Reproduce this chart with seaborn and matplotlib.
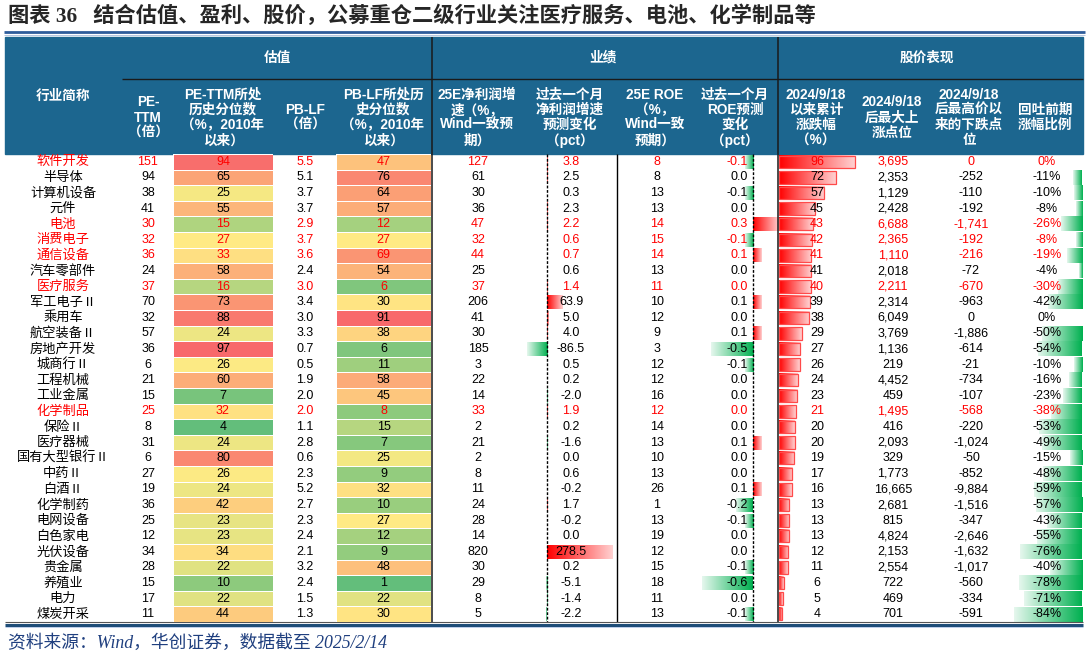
import numpy as np
import pandas as pd
import matplotlib.pyplot as plt
import matplotlib.colors as mcolors
import seaborn as sns

industries = ["软件开发", "半导体", "计算机设备", "元件", "电池", "消费电子", "通信设备", "汽车零部件",
              "医疗服务", "军工电子Ⅱ", "乘用车", "航空装备Ⅱ", "房地产开发", "城商行Ⅱ", "工程机械",
              "工业金属", "化学制品", "保险Ⅱ", "医疗器械", "国有大型银行Ⅱ", "中药Ⅱ", "白酒Ⅱ",
              "化学制药", "电网设备", "白色家电", "光伏设备", "贵金属", "养殖业", "电力", "煤炭开采"]
highlight = ["软件开发", "电池", "消费电子", "通信设备", "医疗服务", "化学制品"]

pe_ttm = [151, 94, 38, 41, 30, 32, 36, 24, 37, 70, 32, 57, 36, 6, 21, 15, 25, 8, 31, 6,
          27, 19, 36, 25, 12, 34, 28, 15, 17, 11]
pe_pct = [94, 65, 25, 55, 15, 27, 33, 58, 16, 73, 88, 24, 97, 26, 60, 7, 32, 4, 24, 80,
          26, 24, 42, 23, 23, 34, 22, 10, 22, 44]
pb_lf = [5.5, 5.1, 3.7, 3.7, 2.9, 3.7, 3.6, 2.4, 3.0, 3.4, 3.0, 3.3, 0.7, 0.5, 1.9, 2.0,
         2.0, 1.1, 2.8, 0.6, 2.3, 5.2, 2.7, 2.3, 2.4, 2.1, 3.2, 2.4, 1.5, 1.3]
pb_pct = [47, 76, 64, 57, 12, 27, 69, 54, 6, 30, 91, 38, 6, 11, 58, 45, 8, 15, 7, 25,
          9, 32, 10, 27, 12, 9, 48, 1, 22, 30]
np_growth = [127, 61, 30, 36, 47, 32, 44, 25, 37, 206, 41, 30, 185, 3, 22, 14, 33, 2, 21, 2,
             8, 11, 24, 28, 14, 820, 30, 29, 8, 5]
np_chg = [3.8, 2.5, 0.3, 2.3, 2.2, 0.6, 0.7, 0.6, 1.4, 63.9, 5.0, 4.0, -86.5, 0.5, 0.2, -2.0,
          1.9, 0.2, -1.6, 0.0, 0.6, -0.2, 1.7, -0.2, 0.0, 278.5, 0.2, -5.1, -1.4, -2.2]
roe = [8, 8, 13, 13, 14, 15, 14, 13, 11, 10, 12, 9, 3, 12, 12, 16, 12, 14, 13, 10,
       13, 26, 1, 13, 19, 12, 15, 18, 11, 13]
roe_chg = [-0.1, 0.0, -0.1, 0.0, 0.3, -0.1, 0.1, 0.0, 0.0, 0.1, 0.0, 0.1, -0.5, -0.1, 0.0, 0.0,
           0.0, 0.0, 0.1, 0.0, 0.0, 0.1, -0.2, -0.1, 0.0, 0.0, -0.1, -0.6, 0.0, -0.1]
rise = [96, 72, 57, 45, 43, 42, 41, 41, 40, 39, 38, 29, 27, 26, 24, 23, 21, 20, 20, 19,
        17, 16, 13, 13, 13, 12, 11, 6, 5, 4]
peak = [3695, 2353, 1129, 2428, 6688, 2365, 1110, 2018, 2211, 2314, 6049, 3769, 1136, 219, 4452,
        459, 1495, 416, 2093, 329, 1773, 16665, 2681, 815, 4824, 2153, 2554, 722, 469, 701]
drawdown = [0, -252, -110, -192, -1741, -192, -216, -72, -670, -963, 0, -1886, -614, -21, -734,
            -107, -568, -220, -1024, -50, -852, -9884, -1516, -347, -2646, -1632, -1017, -560, -334, -591]
giveback = [0, -11, -10, -8, -26, -8, -19, -4, -30, -42, 0, -50, -54, -10, -16, -23, -38, -53,
            -49, -15, -48, -59, -57, -43, -55, -76, -40, -78, -71, -84]

title = "图表 36   结合估值、盈利、股价，公募重仓二级行业关注医疗服务、电池、化学制品等"
source = "资料来源：Wind，华创证券，数据截至 2025/2/14"

# --------------------- layout (pixels) ---------------------
W, H = 1088, 658
ROW_TOP, ROW_BOT = 154, 622
ROW_H = (ROW_BOT - ROW_TOP) / len(industries)
HEADER_BG = "#1C668F"
RED, GREEN = "#FF0000", "#00B050"

sns.set_theme(style="white")
plt.rcParams['font.family'] = ['Liberation Sans', 'Noto Sans CJK SC']

fig = plt.figure(figsize=(W / 100, H / 100), dpi=100)
ax = fig.add_axes([0, 0, 1, 1])
ax.set_xlim(0, W)
ax.set_ylim(H, 0)
ax.set_autoscale_on(False)
ax.axis('off')

ys = ROW_TOP + ROW_H * (np.arange(len(industries)) + 0.5)
txt_colors = [RED if name in highlight else "black" for name in industries]


def fill_gradient(patch, color, solid_side, fade):
    # excel-style gradient data bar, solid at the axis side, fading out
    x, y = patch.get_x(), patch.get_y()
    w, h = patch.get_width(), patch.get_height()
    if abs(w) < 0.3:
        return
    x0, x1 = sorted([x, x + w])
    t = np.linspace(0, 1, 128)
    if solid_side == 'right':
        t = t[::-1]
    rgb = np.array(mcolors.to_rgb(color))
    img = rgb[None, :] * (1 - fade * t[:, None]) + fade * t[:, None]
    ax.imshow(img[None], extent=[x0, x1, y + h, y], aspect='auto',
              interpolation='bilinear', zorder=1.5)


def data_bars(values, axis_x, scale, height, border=None):
    widths = np.array(values, dtype=float) * scale
    bars = ax.barh(ys, widths, left=axis_x, height=height, color='none',
                   edgecolor=border if border else 'none', linewidth=0.9 if border else 0, zorder=2)
    for patch, v in zip(bars, values):
        if v > 0:
            fill_gradient(patch, RED, 'left', 0.82)
        elif v < 0:
            fill_gradient(patch, GREEN, 'right', 0.9)
    return bars


# --------------------- title & header ---------------------
ax.text(8, 16, title, fontsize=15.3, fontweight='bold', va='center', ha='left',
        family=['Liberation Serif', 'Noto Sans CJK SC'])
ax.hlines(32, 4, 1085, color="#2E5C9A", lw=2)
ax.hlines(34.6, 4, 1085, color="#A9BEDD", lw=0.6)

ax.add_patch(plt.Rectangle((5, 37), 1078, ROW_TOP - 37, color=HEADER_BG, zorder=0.5))
ax.hlines(79, 122, 1083, color="#1a1a1a", lw=1, zorder=1)
ax.vlines([432, 778], 37, ROW_BOT, color="#1a1a1a", lw=1.1, zorder=3)

hdr = dict(color='white', fontweight='bold', fontsize=9.8, ha='center', va='center',
           linespacing=1.1, zorder=2)
for x, s in [(277, "估值"), (603, "业绩"), (927, "股价表现")]:
    ax.text(x, 58, s, **hdr)
columns = [
    (63, "行业简称"),
    (148, "PE-\nTTM\n（倍）"),
    (223, "PE-TTM所处\n历史分位数\n（%，2010年\n以来）"),
    (305, "PB-LF\n（倍）"),
    (383, "PB-LF所处历\n史分位数\n（%，2010年\n以来）"),
    (477, "25E净利润增\n速（%，\nWind一致预\n期）"),
    (570, "过去一个月\n净利润增速\n预测变化\n（pct）"),
    (655, "25E ROE\n（%，\nWind一致\n预期）"),
    (735, "过去一个月\nROE预测\n变化\n（pct）"),
    (816, "2024/9/18\n以来累计\n涨跌幅\n（%）"),
    (892, "2024/9/18\n后最大上\n涨点位"),
    (969, "2024/9/18\n后最高价以\n来的下跌点\n位"),
    (1045, "回吐前期\n涨幅比例"),
]
for x, s in columns:
    ax.text(x, 96 if x == 63 else 117.5, s, **hdr)

# --------------------- percentile heatmaps (seaborn) ---------------------
gyr = mcolors.LinearSegmentedColormap.from_list("gyr", ["#63BE7B", "#FFEB84", "#F8696B"])


def pct_heatmap(values, x0, x1):
    hax = fig.add_axes([x0 / W, 1 - ROW_BOT / H, (x1 - x0) / W, (ROW_BOT - ROW_TOP) / H])
    frame = pd.DataFrame({"pct": values}, index=industries)
    norm = mcolors.TwoSlopeNorm(vmin=min(values), vcenter=float(np.median(values)), vmax=max(values))
    sns.heatmap(frame, ax=hax, cmap=gyr, norm=norm, cbar=False, xticklabels=False,
                yticklabels=False, linewidths=0.5, linecolor='white')
    for i, (v, c) in enumerate(zip(values, txt_colors)):
        hax.text(0.5, i + 0.5, f"{v}", ha='center', va='center', fontsize=9, color=c)


pct_heatmap(pe_pct, 173, 273)
pct_heatmap(pb_pct, 336, 431)

# --------------------- data bars ---------------------
data_bars(np_chg, 547, 0.235, 14)
data_bars(roe_chg, 753, 85, 14)
data_bars(rise, 779, 0.79, 12.5, border="#FF4A4A")
data_bars(giveback, 1082, 0.81, 14.6)

ax.vlines([547, 753], ROW_TOP, ROW_BOT, color="black", lw=1, linestyles=(0, (2, 1.2)), zorder=3)
ax.vlines(617, ROW_TOP, ROW_BOT, color="black", lw=1, zorder=3)

# --------------------- cell texts ---------------------
cell = dict(fontsize=9, va='center', zorder=4)
for i, y in enumerate(ys):
    c = txt_colors[i]
    ax.text(63, y, industries[i], ha='center', color=c, fontsize=9.5, va='center', zorder=4,
            family=['Noto Sans CJK SC'])
    ax.text(148, y, f"{pe_ttm[i]}", ha='center', color=c, **cell)
    ax.text(305, y, f"{pb_lf[i]:.1f}", ha='center', color=c, **cell)
    ax.text(478, y, f"{np_growth[i]}", ha='center', color=c, **cell)
    ax.text(571, y, f"{np_chg[i]:.1f}", ha='center', color=c, **cell)
    ax.text(657, y, f"{roe[i]}", ha='center', color=c, **cell)
    ax.text(748, y, f"{roe_chg[i]:.1f}", ha='right', color=c, **cell)
    ax.text(817, y, f"{rise[i]}", ha='center', color=c, **cell)
    ax.text(893, y, f"{peak[i]:,}", ha='center', color=c, **cell)
    ax.text(971, y, f"{drawdown[i]:,}", ha='center', color=c, **cell)
    ax.text(1047, y, f"{giveback[i]}%", ha='center', color=c, **cell)

# --------------------- bottom rule & source ---------------------
ax.hlines(ROW_BOT, 5, 1083, color="#555555", lw=0.8, zorder=3)
ax.hlines(624.6, 5, 1083, color="#1F4E79", lw=2.2, zorder=3)
ax.hlines(627, 5, 1083, color="#B4C7E7", lw=0.6, zorder=3)
ax.text(8, 643, source, fontsize=12.8, style='italic', color="#1F3F7F", va='center', ha='left',
        family=['Liberation Serif', 'Noto Sans CJK SC'])

fig.savefig("out.png", dpi=100)
